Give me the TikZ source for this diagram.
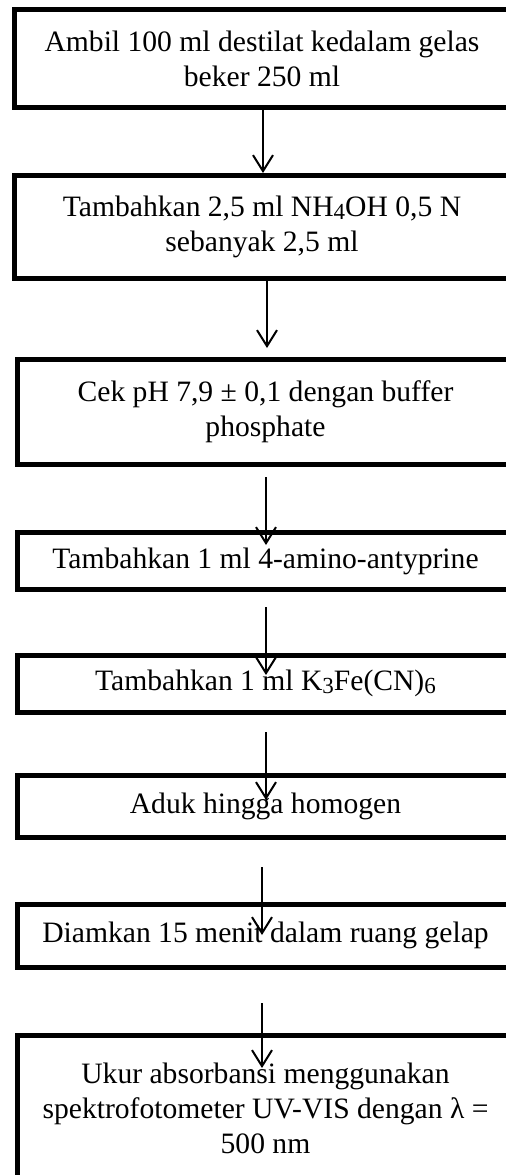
\documentclass[tikz,border=0pt]{standalone}
\usepackage{fontspec}
\setmainfont{Liberation Serif}
\usetikzlibrary{positioning, arrows.meta}
\newcommand{\chemsub}[1]{\raisebox{-1.5pt}{\fontsize{11.5}{11.5}\selectfont #1}}
\tikzstyle{arrow} = [line width=1pt,-{Straight Barb[length=8pt,width=10pt]}]
\tikzstyle{stepbox} = [rectangle, minimum width=248pt, outer sep=0pt, inner sep=0pt, align=center, font=\fontsize{14.8}{17.5}\selectfont]
\tikzstyle{boxline} = [line width=2.5pt]

\begin{document}
\begin{tikzpicture}
        \useasboundingbox (0,0) rectangle (253pt,-587.5pt);
        \clip (0,0) rectangle (253pt,-587.5pt);
        \node (ambil) [stepbox, minimum height=49pt] at (131pt,-29.25pt) {Ambil 100 ml destilat kedalam gelas\\beker 250 ml};
        \node (nhoh) [stepbox, minimum height=51.25pt, below=34pt of ambil] {Tambahkan 2,5 ml NH\chemsub{4}OH 0,5 N\\sebanyak 2,5 ml};
        \node (cekph) [stepbox, minimum height=52.25pt, below=40.75pt of nhoh, xshift=1.75pt] {Cek pH 7,9 ± 0,1 dengan buffer\\phosphate};
        \node (amino) [stepbox, minimum height=28.5pt, below=34.25pt of cekph] {Tambahkan 1 ml 4-amino-antyprine};
        \node (ferri) [stepbox, minimum height=28.25pt, below=33pt of amino] {Tambahkan 1 ml K\chemsub{3}Fe(CN)\chemsub{6}};
        \node (aduk) [stepbox, minimum height=31.25pt, below=31.5pt of ferri] {Aduk hingga homogen};
        \node (diam) [stepbox, minimum height=31.25pt, below=33.5pt of aduk] {Diamkan 15 menit dalam ruang gelap};
        \node (ukur) [stepbox, minimum height=72.5pt, below=34.25pt of diam] {Ukur absorbansi menggunakan\\spektrofotometer UV-VIS dengan λ =\\500 nm};
        % box outlines run off the right edge of the page
        \foreach \n in {ambil,nhoh,cekph,amino,ferri,aduk,diam,ukur}
            \draw [boxline] ([xshift=20pt]\n.north east) -- (\n.north west) -- (\n.south west) -- ([xshift=20pt]\n.south east);
        \draw [arrow] ([shift={(0.5pt,-1.25pt)}]ambil.south) -- ([shift={(0.5pt,1.25pt)}]nhoh.north);
        \draw [arrow] ([shift={(2.5pt,-0.5pt)}]nhoh.south) -- ([shift={(0.75pt,5.75pt)}]cekph.north);
        \draw [arrow] ([shift={(0.25pt,-6.5pt)}]cekph.south) -- ([shift={(0.25pt,-6.25pt)}]amino.north);
        \draw [arrow] ([shift={(0.25pt,-8.75pt)}]amino.south) -- ([shift={(0.25pt,-9.75pt)}]ferri.north);
        \draw [arrow] ([shift={(0.25pt,-10pt)}]ferri.south) -- ([shift={(0.25pt,-12.5pt)}]aduk.north);
        \draw [arrow] ([shift={(-1.75pt,-14.75pt)}]aduk.south) -- ([shift={(-1.75pt,-15.25pt)}]diam.north);
        \draw [arrow] ([shift={(-1.75pt,-18pt)}]diam.south) -- ([shift={(-1.75pt,-16.25pt)}]ukur.north);
    \end{tikzpicture}
\end{document}
